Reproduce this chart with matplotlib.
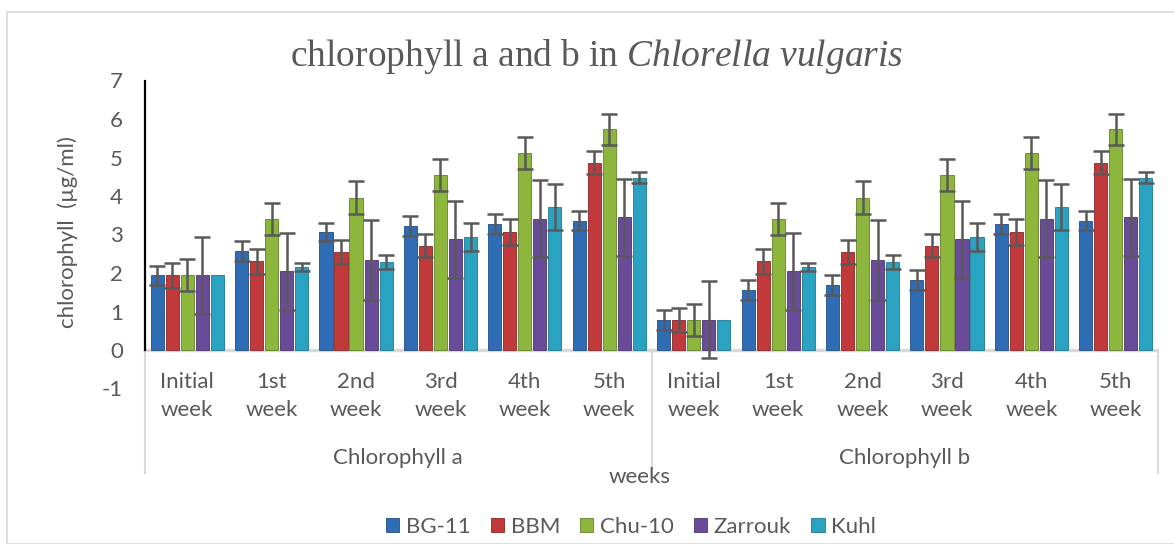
import matplotlib
matplotlib.use("Agg")
import matplotlib.pyplot as plt
from matplotlib.patches import Rectangle
import numpy as np

# ---------------- data ----------------
weeks = ["Initial\nweek", "1st\nweek", "2nd\nweek", "3rd\nweek", "4th\nweek", "5th\nweek"]
groups = ["Chlorophyll a", "Chlorophyll b"]
series = ["BG-11", "BBM", "Chu-10", "Zarrouk", "Kuhl"]

bg11 = [1.94, 2.57, 3.07, 3.22, 3.27, 3.36, 0.78, 1.57, 1.68, 1.81, 3.27, 3.36]
bbm = [1.94, 2.30, 2.55, 2.71, 3.07, 4.86, 0.78, 2.30, 2.55, 2.71, 3.07, 4.86]
chu10 = [1.94, 3.41, 3.96, 4.54, 5.11, 5.73, 0.78, 3.41, 3.96, 4.54, 5.11, 5.73]
zarrouk = [1.94, 2.05, 2.34, 2.88, 3.41, 3.45, 0.78, 2.05, 2.34, 2.88, 3.41, 3.45]
kuhl = [1.94, 2.15, 2.29, 2.94, 3.71, 4.48, 0.78, 2.15, 2.29, 2.94, 3.71, 4.48]

bg11_err = [0.25, 0.26, 0.24, 0.26, 0.26, 0.25, 0.25, 0.26, 0.26, 0.26, 0.26, 0.25]
bbm_err = [0.32, 0.33, 0.31, 0.30, 0.33, 0.30, 0.32, 0.33, 0.31, 0.30, 0.33, 0.30]
chu10_err = [0.42, 0.42, 0.42, 0.42, 0.42, 0.40, 0.42, 0.42, 0.42, 0.42, 0.42, 0.40]
zarrouk_err = [1.00, 1.00, 1.03, 1.00, 1.00, 1.00, 1.00, 1.00, 1.03, 1.00, 1.00, 1.00]
kuhl_err = [0.00, 0.11, 0.19, 0.36, 0.60, 0.14, 0.00, 0.11, 0.19, 0.36, 0.60, 0.14]

yticks = [-1, 0, 1, 2, 3, 4, 5, 6, 7]

# ---------------- style ----------------
plt.rcParams['font.family'] = ['Lato', 'DejaVu Sans']
plt.rcParams['axes.unicode_minus'] = False
plt.rcParams['mathtext.fontset'] = 'custom'
plt.rcParams['mathtext.rm'] = 'Liberation Serif'
plt.rcParams['mathtext.it'] = 'Liberation Serif:italic'
TXT = '#595959'
FS = 16

colors = ['#2E6DB6', '#C2393B', '#8DB63C', '#6A4B99', '#2AA3C2']
edges = ['#1F4E85', '#8C2426', '#62822A', '#4A336E', '#1D7890']

W, H = 1174, 544
fig = plt.figure(figsize=(W / 100, H / 100), dpi=100)

# outer chart border
fig.patches.append(Rectangle((7 / W, 0), (W - 7) / W + 0.01, (H - 12) / H, transform=fig.transFigure,
                             fill=False, edgecolor='#D9D9D9', lw=1.2))

left, right = 145, 1158
y0px, unit = 350, 38.5
top_px = y0px - 7 * unit
bot_px = y0px + 1 * unit
ax = fig.add_axes([left / W, (H - bot_px) / H, (right - left) / W, (bot_px - top_px) / H])

allvals = [bg11, bbm, chu10, zarrouk, kuhl]
allerr = [bg11_err, bbm_err, chu10_err, zarrouk_err, kuhl_err]
ncat = len(weeks) * len(groups)
x = np.arange(ncat)
pitch, bw = 0.178, 0.155

for i, (vals, errs) in enumerate(zip(allvals, allerr)):
    xs = x + (i - 2) * pitch
    ax.bar(xs, vals, width=bw, color=colors[i], edgecolor=edges[i], linewidth=0.6,
           label=series[i], zorder=3)
    e = np.array(errs)
    mask = e > 0
    ax.errorbar(xs[mask], np.array(vals)[mask], yerr=e[mask], fmt='none', ecolor='#595959',
                elinewidth=1.8, capsize=6, capthick=1.8, zorder=4)

ax.set_xlim(-0.5, ncat - 0.5)
ax.set_ylim(-1, 7)
ax.set_yticks(yticks)
ax.set_xticks([])
ax.tick_params(axis='y', length=0, labelsize=FS, labelcolor=TXT, pad=16)
for s in ['top', 'right', 'bottom']:
    ax.spines[s].set_visible(False)
ax.spines['left'].set_bounds(0, 7)
ax.spines['left'].set_linewidth(1.6)
ax.spines['left'].set_color('black')
ax.patch.set_alpha(0)
ax.axhline(0, color='#D9D9D9', lw=2.5, zorder=2)

# category labels
def px2data(py):
    return (y0px - py) / unit

labels = weeks * len(groups)
for i, lab in enumerate(labels):
    ax.text(i, px2data(396), lab, ha='center', va='center', fontsize=FS, color=TXT,
            linespacing=1.5, clip_on=False)
for g, name in enumerate(groups):
    ax.text(g * len(weeks) + (len(weeks) - 1) / 2, px2data(458), name, ha='center', va='center',
            fontsize=FS, color=TXT, clip_on=False)
for xb in [-0.5, len(weeks) - 0.5, ncat - 0.5]:
    ax.plot([xb, xb], [0, px2data(473)], color='#D9D9D9', lw=1.5, clip_on=False, zorder=1)

fig.text(640 / W, (H - 477) / H, 'weeks', ha='center', va='center', fontsize=FS, color=TXT)
fig.text(68 / W, (H - 232) / H, 'chlorophyll  (µg/ml)', ha='center', va='center', rotation=90,
         fontsize=FS, color=TXT)
fig.text(597 / W, (H - 57) / H, r'$\mathrm{chlorophyll\ a\ and\ b\ in\ }\mathit{Chlorella\ vulgaris}$',
         ha='center', va='center', fontsize=27, color=TXT)

fig.legend(loc='center', bbox_to_anchor=(631 / W, (H - 527) / H), ncol=5, frameon=False,
           fontsize=FS, labelcolor=TXT, handlelength=0.6, handleheight=0.6, handletextpad=0.3,
           columnspacing=0.9)

fig.savefig('out.png', dpi=100)
